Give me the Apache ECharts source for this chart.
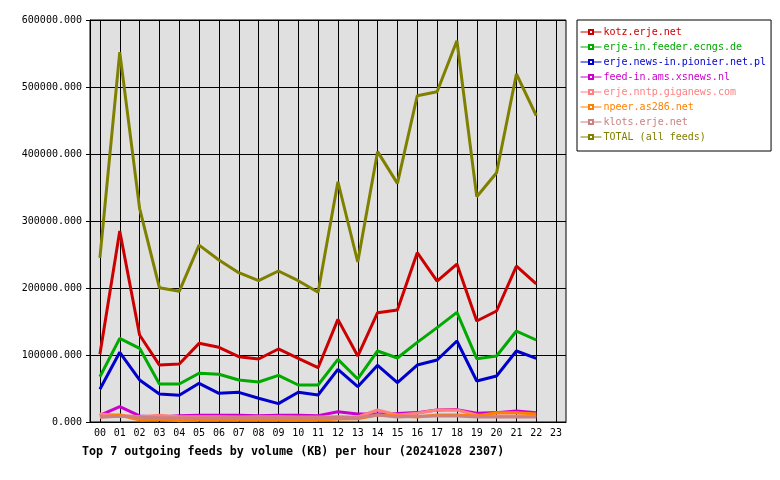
<!DOCTYPE html>
<html><head><meta charset="utf-8">
<script src="https://cdn.jsdelivr.net/npm/echarts@6/dist/echarts.min.js"></script>
<style>html,body{margin:0;padding:0;background:#fff}#c{width:780px;height:480px}</style>
</head><body><div id="c"></div>
<script>
const hours = ['00','01','02','03','04','05','06','07','08','09','10','11','12','13','14','15','16','17','18','19','20','21','22','23'];
const seriesNames = ['kotz.erje.net','erje-in.feeder.ecngs.de','erje.news-in.pionier.net.pl','feed-in.ams.xsnews.nl','erje.nntp.giganews.com','npeer.as286.net','klots.erje.net','TOTAL (all feeds)'];
const seriesColors = ['#cc0000','#00aa00','#0000cc','#cc00cc','#ff8080','#ff8000','#cc8080','#808000'];
const kotz = [101000,285000,129800,85000,86600,117400,111500,97500,94000,109000,95000,81000,153200,98500,163200,167200,252700,210400,235800,150700,165700,232800,206000];
const ecngs = [67600,124900,110000,56700,56700,72700,71200,62700,59700,69700,55200,55200,93500,64200,106000,95500,118900,140800,163700,94500,98500,135800,122400];
const pionier = [48800,104000,62700,41800,39800,57700,42800,44300,35400,27400,44300,40300,78600,52700,84600,58700,85000,92500,120900,61200,68700,106000,95000];
const xsnews = [10000,22900,9000,7000,9400,10000,10000,10000,9500,10000,10000,9500,15400,12000,12000,12700,14000,17900,18500,13000,14000,16500,14000];
const giganews = [12000,10000,8000,10000,8000,8000,8000,7500,8000,8000,7500,7500,8000,7500,17900,10400,13000,17900,17900,10400,9000,9000,9000];
const npeer = [7000,10400,3000,4000,2000,3000,3000,3000,3000,3000,2500,3000,4500,5000,10400,9000,7500,10400,10400,9000,13900,13900,12000];
const klots = [7000,8500,7000,6500,6000,6000,6500,6500,6500,6500,6500,6500,7000,6500,10400,7500,8500,9000,9000,7500,7500,7500,7500];
const total = [245000,552000,319000,200400,195000,264000,241800,222800,210900,225400,210900,193600,358600,238800,403500,356200,487000,493000,569100,336300,372100,519400,457200];
const yTicks = [0,100000,200000,300000,400000,500000,600000];
const allData = [kotz, ecngs, pionier, xsnews, giganews, npeer, klots, total];
const titleText = 'Top 7 outgoing feeds by volume (KB) per hour (20241028 2307)';

const mono = 'DejaVu Sans Mono';
const chart = echarts.init(document.getElementById('c'), null, {renderer:'canvas'});
chart.setOption({
  animation:false,
  backgroundColor:'#ffffff',
  title:{text:titleText,left:82,top:446,padding:0,textStyle:{fontFamily:mono,fontSize:11.7,fontWeight:'bold',color:'#000'}},
  grid:{left:90,top:20,right:214,bottom:58,show:true,backgroundColor:'#e0e0e0',borderColor:'#000',borderWidth:1},
  legend:{
    orient:'vertical',left:577,top:20,backgroundColor:'#fff',borderColor:'#000',borderWidth:1,
    padding:[6,5,8,3],itemGap:3,itemWidth:21,itemHeight:5,
    lineStyle:{width:1},
    itemStyle:{borderWidth:1},
    data:seriesNames.map((n,i)=>({name:n,textStyle:{color:seriesColors[i]}})),
    textStyle:{fontFamily:mono,fontSize:10,lineHeight:12,padding:[0,0,0,-3]}
  },
  xAxis:{type:'category',data:hours,boundaryGap:true,
    axisLine:{lineStyle:{color:'#000'}},
    axisTick:{alignWithLabel:true,length:4,lineStyle:{color:'#000'}},
    axisLabel:{fontFamily:mono,fontSize:10,color:'#000',margin:6,interval:0},
    splitLine:{show:true,alignWithLabel:true,lineStyle:{color:'#000',width:1}}
  },
  yAxis:{type:'value',min:0,max:600000,interval:100000,
    axisLine:{show:true,lineStyle:{color:'#000'}},
    axisTick:{show:true,length:4,lineStyle:{color:'#000'}},
    axisLabel:{fontFamily:mono,fontSize:10,color:'#000',margin:8,formatter:v=>v.toFixed(3)},
    splitLine:{show:true,lineStyle:{color:'#000',width:1}}
  },
  series:allData.map((d,i)=>({
    name:seriesNames[i],type:'line',data:d,color:seriesColors[i],
    symbol:'emptyRect',symbolSize:4,showSymbol:false,
    lineStyle:{width:3,color:seriesColors[i]},
    itemStyle:{color:seriesColors[i]}
  }))
});
</script></body></html>
